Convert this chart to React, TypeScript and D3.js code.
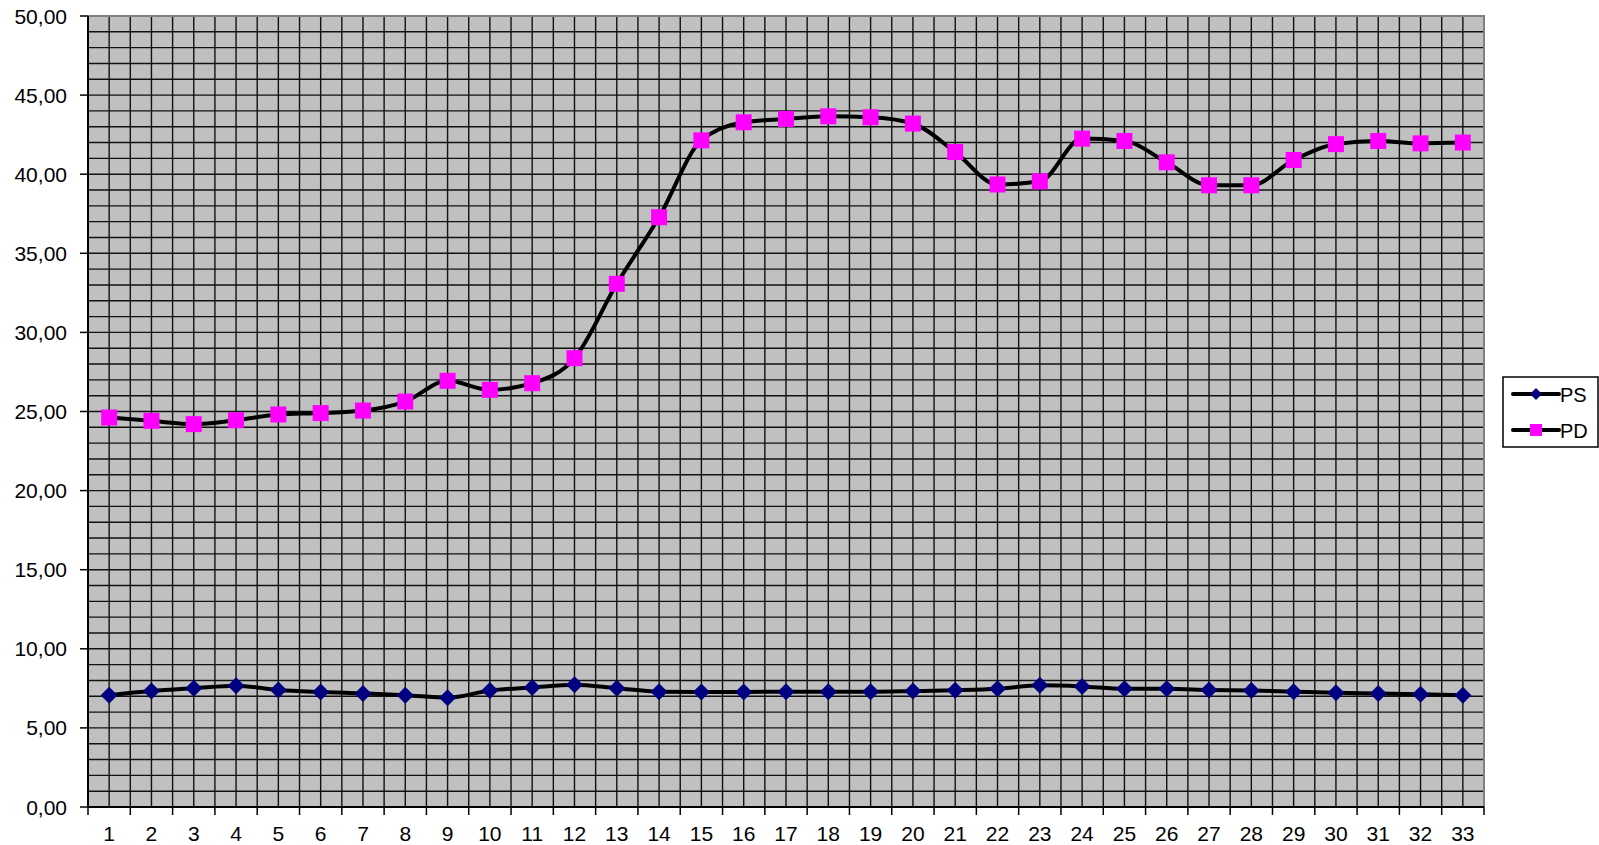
import React, { useRef, useEffect } from 'react';
import * as d3 from 'd3';

const categories = Array.from({ length: 33 }, (_, i) => String(i + 1));

const psValues = [
  7.07, 7.33, 7.51, 7.67, 7.4, 7.27, 7.18, 7.07, 6.91, 7.36, 7.56, 7.73, 7.51, 7.29, 7.27, 7.27,
  7.29, 7.29, 7.29, 7.33, 7.38, 7.47, 7.69, 7.62, 7.47, 7.47, 7.4, 7.36, 7.29, 7.22, 7.18, 7.13, 7.07,
];

const pdValues = [
  24.62, 24.41, 24.2, 24.45, 24.81, 24.9, 25.06, 25.63, 26.94, 26.37, 26.79, 28.37, 33.07, 37.28, 42.14, 43.28,
  43.49, 43.66, 43.6, 43.2, 41.4, 39.35, 39.55, 42.25, 42.1, 40.75, 39.3, 39.3, 40.9, 41.9, 42.1, 41.95, 42.0,
];

const yTicks = [0, 5, 10, 15, 20, 25, 30, 35, 40, 45, 50];
const seriesNames = ['PS', 'PD'];

const W = 1599;
const H = 845;
const FONT = '"Liberation Sans", Arial, sans-serif';

const App: React.FC = () => {
  const svgRef = useRef<SVGSVGElement>(null);

  useEffect(() => {
    if (!svgRef.current) return;
    const svg = d3.select(svgRef.current);
    svg.selectAll('*').remove();

    const plot = { left: 88, right: 1484, top: 16, bottom: 807 };

    const x = d3.scaleBand<string>()
      .domain(categories)
      .range([plot.left, plot.right])
      .paddingInner(0)
      .paddingOuter(0);
    const bw = x.bandwidth();
    const cx = (c: string) => x(c)! + bw / 2;

    const y = d3.scaleLinear().domain([0, 50]).range([plot.bottom, plot.top]);

    // plot background
    svg.append('rect')
      .attr('x', plot.left).attr('y', plot.top)
      .attr('width', plot.right - plot.left).attr('height', plot.bottom - plot.top)
      .attr('fill', '#c0c0c0');

    // horizontal grid, every 1 unit
    const grid = svg.append('g').attr('stroke', '#111').attr('stroke-width', 1.4);
    grid.selectAll('line.h')
      .data(d3.range(1, 50))
      .enter().append('line')
      .attr('x1', plot.left).attr('x2', plot.right)
      .attr('y1', d => y(d)).attr('y2', d => y(d));

    // vertical grid, at category centres and boundaries
    const vLines: number[] = [];
    categories.forEach((c, i) => {
      if (i > 0) vLines.push(x(c)!);
      vLines.push(cx(c));
    });
    grid.selectAll('line.v')
      .data(vLines)
      .enter().append('line')
      .attr('x1', d => d).attr('x2', d => d)
      .attr('y1', plot.top).attr('y2', plot.bottom);

    // frame: gray top/right
    svg.append('path')
      .attr('d', `M${plot.left},${plot.top}H${plot.right}V${plot.bottom}`)
      .attr('fill', 'none').attr('stroke', '#808080').attr('stroke-width', 2);

    // y axis
    const yAxis = svg.append('g');
    yAxis.append('line')
      .attr('x1', plot.left).attr('x2', plot.left)
      .attr('y1', plot.top).attr('y2', plot.bottom)
      .attr('stroke', '#000').attr('stroke-width', 2);
    yAxis.selectAll('line.t')
      .data(yTicks)
      .enter().append('line')
      .attr('x1', plot.left - 8).attr('x2', plot.left)
      .attr('y1', d => y(d)).attr('y2', d => y(d))
      .attr('stroke', '#000').attr('stroke-width', 1.5);
    yAxis.selectAll('text')
      .data(yTicks)
      .enter().append('text')
      .attr('x', 67).attr('y', d => y(d) + 7.5)
      .attr('text-anchor', 'end')
      .attr('font-family', FONT).attr('font-size', 21)
      .attr('fill', '#000')
      .text(d => d3.format('.2f')(d).replace('.', ','));

    // x axis
    const xAxis = svg.append('g');
    xAxis.append('line')
      .attr('x1', plot.left).attr('x2', plot.right)
      .attr('y1', plot.bottom).attr('y2', plot.bottom)
      .attr('stroke', '#000').attr('stroke-width', 2);
    xAxis.selectAll('line.t')
      .data([...categories.map(c => x(c)!), plot.right])
      .enter().append('line')
      .attr('x1', d => d).attr('x2', d => d)
      .attr('y1', plot.bottom).attr('y2', plot.bottom + 8)
      .attr('stroke', '#000').attr('stroke-width', 1.5);
    xAxis.selectAll('text')
      .data(categories)
      .enter().append('text')
      .attr('x', d => cx(d)).attr('y', 841)
      .attr('text-anchor', 'middle')
      .attr('font-family', FONT).attr('font-size', 21)
      .attr('fill', '#000')
      .text(d => d);

    // series lines (smoothed)
    const line = d3.line<number>()
      .x((_, i) => cx(categories[i]))
      .y(d => y(d))
      .curve(d3.curveMonotoneX);

    [psValues, pdValues].forEach(vals => {
      svg.append('path')
        .datum(vals)
        .attr('d', line)
        .attr('fill', 'none')
        .attr('stroke', '#000')
        .attr('stroke-width', 4)
        .attr('stroke-linejoin', 'round');
    });

    // PS markers: navy diamonds
    svg.append('g').selectAll('path')
      .data(psValues)
      .enter().append('path')
      .attr('d', (d, i) => {
        const px = cx(categories[i]);
        const py = y(d);
        const r = 8.5;
        return `M${px},${py - r}L${px + r},${py}L${px},${py + r}L${px - r},${py}Z`;
      })
      .attr('fill', '#000080');

    // PD markers: magenta squares
    svg.append('g').selectAll('rect')
      .data(pdValues)
      .enter().append('rect')
      .attr('x', (_, i) => cx(categories[i]) - 8)
      .attr('y', d => y(d) - 8)
      .attr('width', 16).attr('height', 16)
      .attr('fill', '#ff00ff');

    // legend
    const lg = svg.append('g');
    lg.append('rect')
      .attr('x', 1503).attr('y', 377)
      .attr('width', 95).attr('height', 70)
      .attr('fill', '#fff').attr('stroke', '#000').attr('stroke-width', 1.5);

    seriesNames.forEach((name, i) => {
      const ly = 394 + i * 36;
      lg.append('line')
        .attr('x1', 1513).attr('x2', 1559)
        .attr('y1', ly).attr('y2', ly)
        .attr('stroke', '#000').attr('stroke-width', 4)
        .attr('stroke-linecap', 'round');
      if (name === 'PS') {
        const r = 6;
        lg.append('path')
          .attr('d', `M1536,${ly - r}L${1536 + r},${ly}L1536,${ly + r}L${1536 - r},${ly}Z`)
          .attr('fill', '#000080');
      } else {
        lg.append('rect')
          .attr('x', 1530).attr('y', ly - 6)
          .attr('width', 12).attr('height', 12)
          .attr('fill', '#ff00ff');
      }
      lg.append('text')
        .attr('x', 1560).attr('y', ly + 7.5)
        .attr('font-family', FONT).attr('font-size', 20)
        .attr('fill', '#000')
        .text(name);
    });
  }, []);

  return (
    <svg
      ref={svgRef}
      width={W}
      height={H}
      style={{ position: 'absolute', left: 0, top: 0, background: '#fff' }}
    />
  );
};

export default App;
